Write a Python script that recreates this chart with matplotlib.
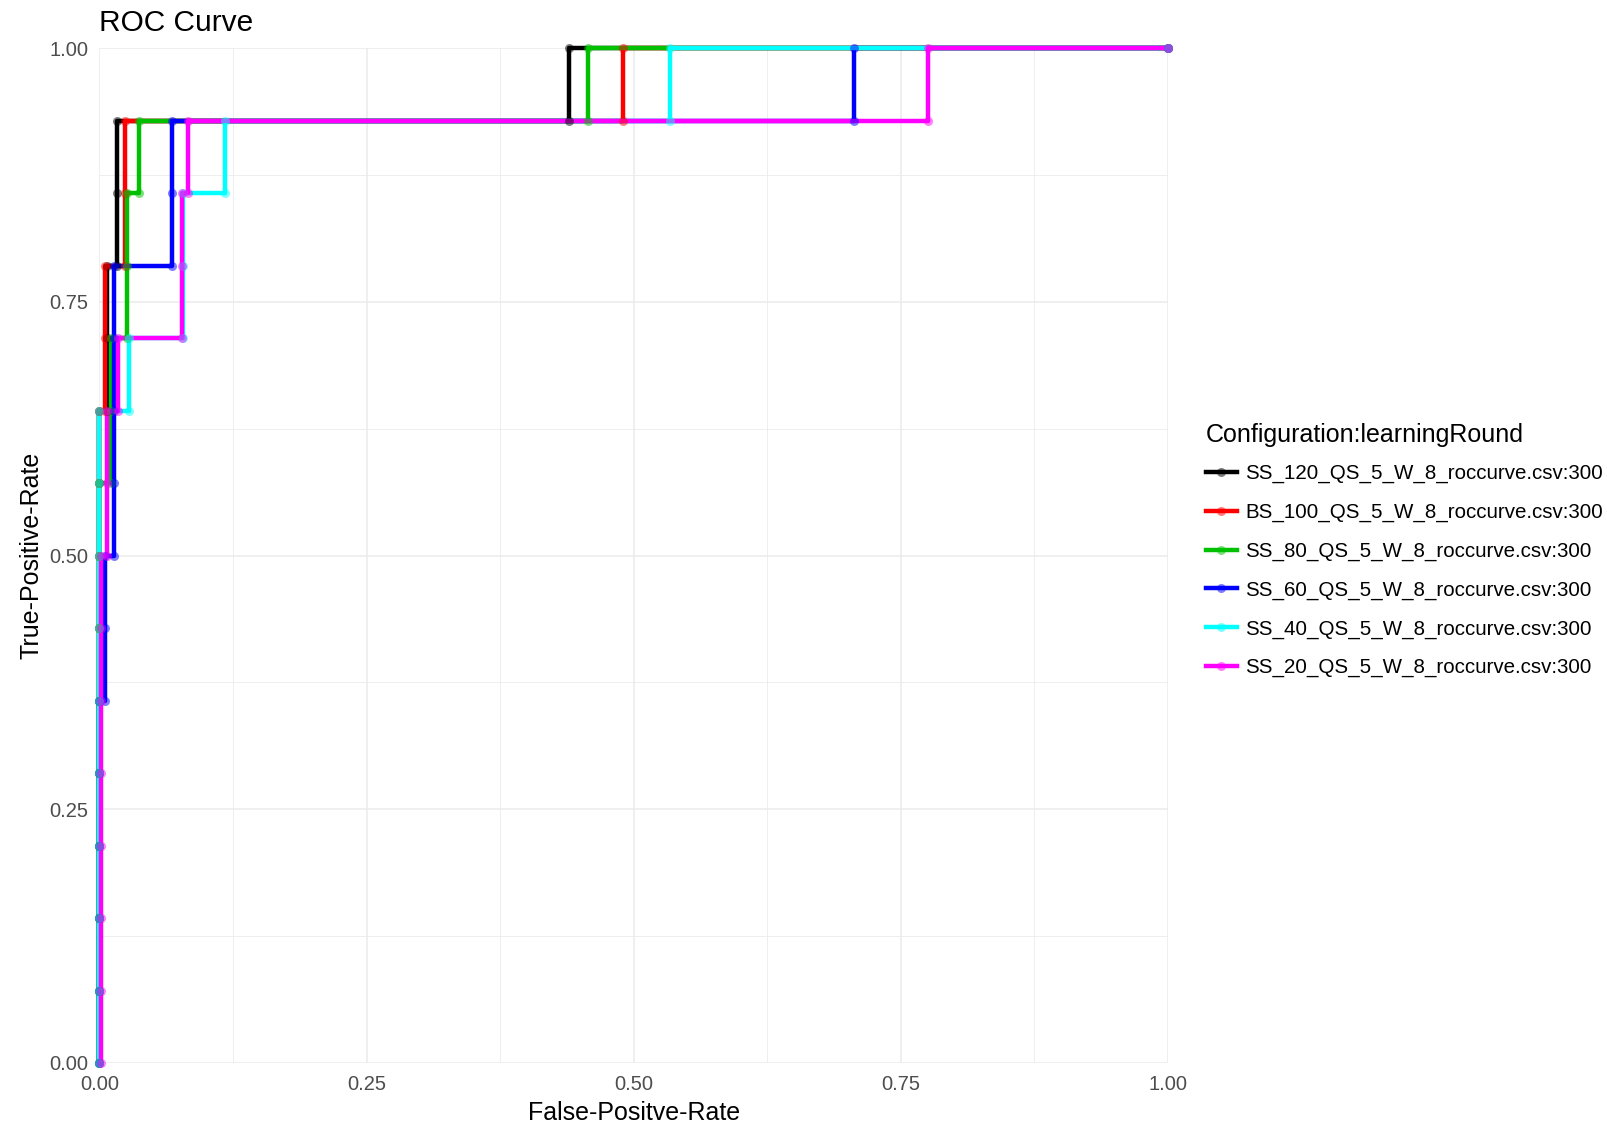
import matplotlib
matplotlib.use("Agg")
import matplotlib.pyplot as plt
from matplotlib.lines import Line2D
from matplotlib.colors import to_rgba
from matplotlib.ticker import MultipleLocator

plt.rcParams["font.family"] = ["Liberation Sans", "DejaVu Sans"]

# ROC points per configuration (TPR moves in steps of 1/14)
labels = [
    "SS_120_QS_5_W_8_roccurve.csv:300",
    "BS_100_QS_5_W_8_roccurve.csv:300",
    "SS_80_QS_5_W_8_roccurve.csv:300",
    "SS_60_QS_5_W_8_roccurve.csv:300",
    "SS_40_QS_5_W_8_roccurve.csv:300",
    "SS_20_QS_5_W_8_roccurve.csv:300",
]
colours = ["#000000", "#FF0000", "#00C000", "#0000FF", "#00FFFF", "#FF00FF"]

fpr_ss120 = [0] * 10 + [0.007, 0.007, 0.007, 0.016, 0.016, 0.016, 0.439, 0.439, 1.0]
tpr_ss120 = list(range(10)) + [9, 10, 11, 11, 12, 13, 13, 14, 14]

fpr_bs100 = [0] * 10 + [0.005, 0.005, 0.005, 0.024, 0.024, 0.024, 0.490, 0.490, 1.0]
tpr_bs100 = list(range(10)) + [9, 10, 11, 11, 12, 13, 13, 14, 14]

fpr_ss80 = [0] * 9 + [0.011, 0.011, 0.011, 0.026, 0.026, 0.026, 0.037, 0.037, 0.457, 0.457, 1.0]
tpr_ss80 = list(range(9)) + [8, 9, 10, 10, 11, 12, 12, 13, 13, 14, 14]

fpr_ss60 = [0] * 6 + [0.005, 0.005, 0.005, 0.014, 0.014, 0.014, 0.014, 0.014,
                      0.068, 0.068, 0.068, 0.706, 0.706, 1.0]
tpr_ss60 = list(range(6)) + [5, 6, 7, 7, 8, 9, 10, 11, 11, 12, 13, 13, 14, 14]

fpr_ss40 = [0] * 10 + [0.028, 0.028, 0.078, 0.078, 0.078, 0.117, 0.117, 0.534, 0.534, 1.0]
tpr_ss40 = list(range(10)) + [9, 10, 10, 11, 12, 12, 13, 13, 14, 14]

fpr_ss20 = [0.001] * 8 + [0.007, 0.007, 0.007, 0.017, 0.017, 0.077, 0.077, 0.077,
                          0.083, 0.083, 0.775, 0.775, 1.0]
tpr_ss20 = list(range(8)) + [7, 8, 9, 9, 10, 10, 11, 12, 12, 13, 13, 14, 14]

fprs = [fpr_ss120, fpr_bs100, fpr_ss80, fpr_ss60, fpr_ss40, fpr_ss20]
tprs = [tpr_ss120, tpr_bs100, tpr_ss80, tpr_ss60, tpr_ss40, tpr_ss20]
N_POS = 14

LINE_W = 3.2
DOT = 6.5


def main():
    fig = plt.figure(figsize=(16.08, 11.27), dpi=100)
    ax = fig.add_axes([99.5 / 1608, 1 - 1063 / 1127, (1168 - 99.5) / 1608, (1063 - 48) / 1127])
    plot_data(ax)
    set_properties(fig, ax)
    plt.savefig("out.png", dpi=100)


def plot_data(ax):
    # lines first for every group, then the points on top
    for fpr, tpr, c in zip(fprs, tprs, colours):
        ax.plot(fpr, [k / N_POS for k in tpr], color=c, lw=LINE_W,
                solid_joinstyle="round", clip_on=False, zorder=3)
    for fpr, tpr, c in zip(fprs, tprs, colours):
        ax.plot(fpr, [k / N_POS for k in tpr], ls="none", marker="o", ms=DOT,
                mfc=to_rgba(c, 0.5), mec="none", clip_on=False, zorder=4)


def set_properties(fig, ax):
    ax.set_xlim(0, 1)
    ax.set_ylim(0, 1)
    for s in ax.spines.values():
        s.set_visible(False)
    ax.xaxis.set_major_locator(MultipleLocator(0.25))
    ax.yaxis.set_major_locator(MultipleLocator(0.25))
    ax.xaxis.set_minor_locator(MultipleLocator(0.125))
    ax.yaxis.set_minor_locator(MultipleLocator(0.125))
    ax.grid(which="major", color="#EBEBEB", lw=1.1)
    ax.grid(which="minor", color="#EBEBEB", lw=0.6)
    ax.set_axisbelow(True)
    ax.tick_params(which="both", length=0)
    ax.tick_params(axis="x", pad=9, labelsize=14.5, labelcolor="#4D4D4D")
    ax.tick_params(axis="y", pad=8, labelsize=14.5, labelcolor="#4D4D4D")
    fmt = lambda v, _: f"{v:.2f}"
    ax.xaxis.set_major_formatter(fmt)
    ax.yaxis.set_major_formatter(fmt)

    ax.set_xlabel("False-Positve-Rate", fontsize=18, labelpad=5)
    ax.set_ylabel("True-Positive-Rate", fontsize=18, labelpad=4)
    fig.text(99 / 1608, 1 - 23 / 1127, "ROC Curve", fontsize=21.5, ha="left", va="center")

    handles = [Line2D([], [], color=c, lw=LINE_W, marker="o", ms=DOT,
                      mfc=to_rgba(c, 0.5), mec="none") for c in colours]
    ax.legend(handles, labels, title="Configuration:learningRound",
              loc="upper left", bbox_to_anchor=(1206 / 1608, 1 - 423 / 1127),
              bbox_transform=fig.transFigure, frameon=False, fontsize=14.8,
              title_fontsize=18, handlelength=1.5, handletextpad=0.4,
              labelspacing=0.95, borderpad=0, borderaxespad=0, numpoints=1,
              alignment="left")
    # gap between legend title and first entry
    ax.get_legend()._legend_box.sep = 12.4


if __name__ == "__main__":
    main()
